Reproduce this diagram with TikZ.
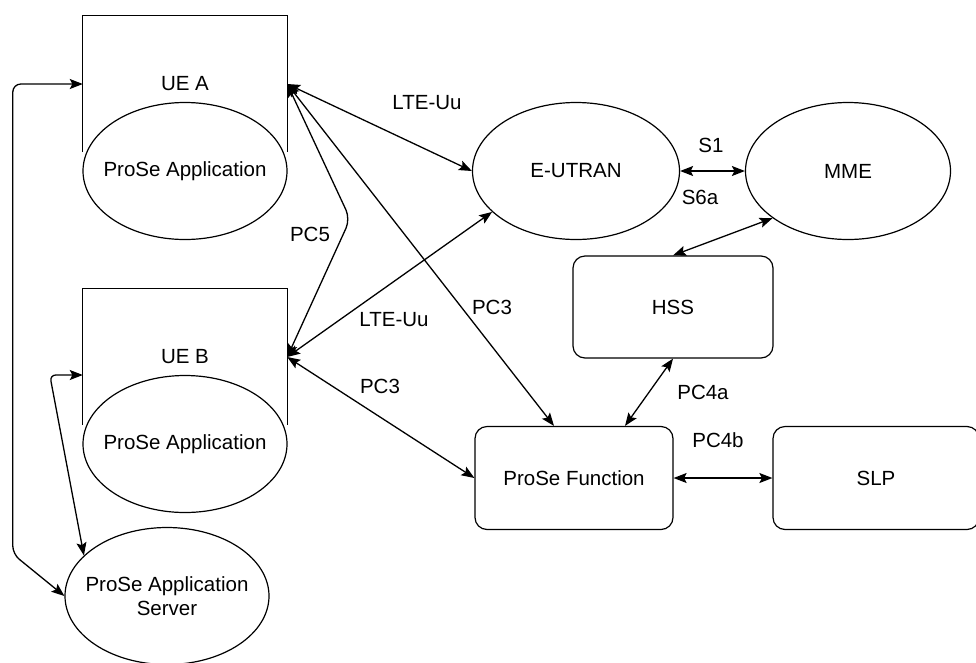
\documentclass[tikz,border=0pt]{standalone}
\usepackage{fontspec}
\setmainfont{Liberation Sans}
\usetikzlibrary{arrows.meta,shapes.geometric}

\tikzset{
  uebox/.style={minimum width=204pt,minimum height=136pt,inner sep=0pt},
  entity/.style={draw=black,line width=1.2pt,ellipse,fill=white,minimum width=204pt,minimum height=137pt,inner sep=0pt,align=center},
  func/.style={draw=black,line width=1.2pt,rounded corners=12pt,fill=white,minimum width=200pt,minimum height=102pt,inner sep=0pt},
  iface/.style={line width=1.3pt,{Stealth[length=13pt,width=10pt,inset=2.5pt]}-{Stealth[length=13pt,width=10pt,inset=2.5pt]}},
  lbl/.style={inner sep=0pt}
}
% zero-width text so the ellipse keeps its own size
\newcommand{\fixtext}[1]{\makebox[0pt]{#1}}

\begin{document}
\begin{tikzpicture}[x=1pt,y=-1pt,font=\fontsize{20.5}{24}\selectfont]
\useasboundingbox (0,0) rectangle (976,662);
% user equipment: open boxes with the application sitting in the bottom
\node[uebox] (ueA) at (185,84) {UE A};
\node[uebox] (ueB) at (185,357) {UE B};
\draw[line width=1.2pt] (ueA.south west) -- (ueA.north west) -- (ueA.north east) -- (ueA.south east);
\draw[line width=1.2pt] (ueB.south west) -- (ueB.north west) -- (ueB.north east) -- (ueB.south east);
\node[entity] (appA) at (185,171) {\fixtext{ProSe Application}};
\node[entity] (appB) at (185,444) {\fixtext{ProSe Application}};
\node[entity] (srv) at (167,596) {\fixtext{ProSe Application}\\\fixtext{Server}};
% network side
\node[entity,minimum width=207pt] (eutran) at (576,171) {E-UTRAN};
\node[entity,minimum width=205pt] (mme) at (848,171) {MME};
\node[func] (hss) at (673,307) {HSS};
\node[func,minimum width=198pt,minimum height=103pt] (pf) at (574,478) {ProSe Function};
\node[func,minimum width=206pt,minimum height=103pt] (slp) at (876,478) {SLP};
% interfaces
\draw[iface,rounded corners=8pt] (ueA.west) -- ++(-70,0) -- ++(0,470) -- (srv.west);
\draw[iface,rounded corners=6pt] ([yshift=-18pt]ueB.west) -- ++(-33,0) -- (srv.154);
\draw[iface] (ueA.east) -- (eutran.west);
\draw[iface,rounded corners=10pt] (ueA.east) -- ++(63,135) -- (ueB.east);
\draw[iface] (ueA.east) -- ([xshift=-20pt]pf.north);
\draw[iface] (ueB.east) -- (eutran.206);
\draw[iface] (ueB.east) -- (pf.west);
\draw[iface] (eutran.east) -- (mme.west);
\draw[iface] (mme.212) -- (hss.north);
\draw[iface] (hss.south) -- ([xshift=51pt]pf.north);
\draw[iface] (pf.east) -- (slp.west);
% interface names
\node[lbl] (uuA) at (427,103) {LTE-Uu};
\node[lbl] (uuB) at (394,320) {LTE-Uu};
\node[lbl] (pc5) at (310,234) {PC5};
\node[lbl] (pc3a) at (492,307) {PC3};
\node[lbl] (pc3b) at (380,386) {PC3};
\node[lbl] (s1) at (711,145) {S1};
\node[lbl] (s6a) at (700,197) {S6a};
\node[lbl] (pc4a) at (703,392) {PC4a};
\node[lbl] (pc4b) at (718,440) {PC4b};
\end{tikzpicture}
\end{document}
